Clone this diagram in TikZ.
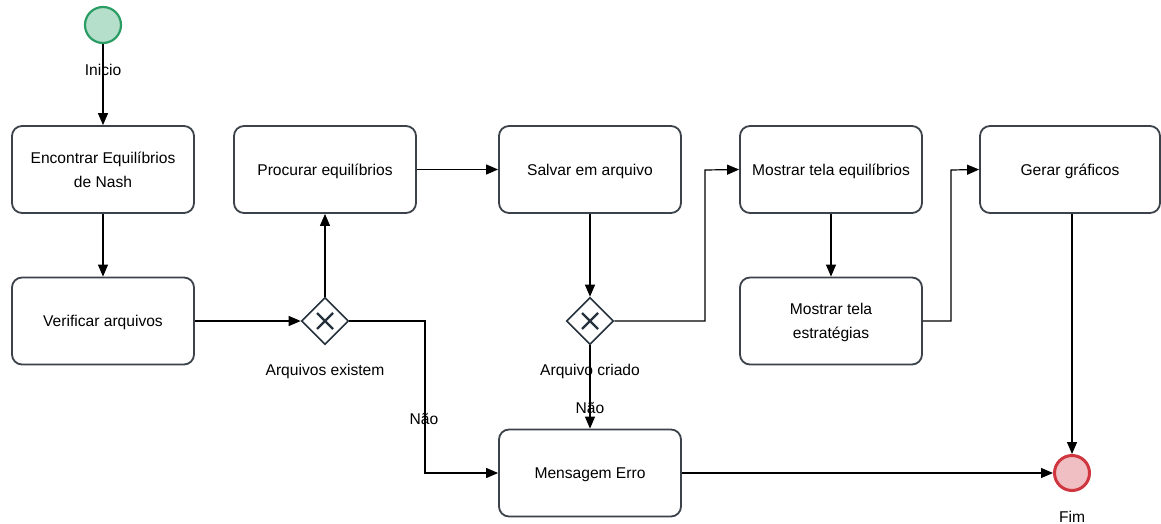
\documentclass[tikz,border=0pt]{standalone}
\usepackage{fontspec}
\setmainfont{Liberation Sans}
\usetikzlibrary{arrows.meta,shapes.geometric}
\definecolor{taskline}{HTML}{3B4249}
\definecolor{startfill}{HTML}{B5DECB}
\definecolor{startline}{HTML}{2A9D65}
\definecolor{endfill}{HTML}{F0BFC3}
\definecolor{endline}{HTML}{D0363F}
\definecolor{gwline}{HTML}{25313C}
\tikzset{
  task/.style={draw=taskline, line width=1.8pt, rounded corners=10pt, fill=white,
    minimum width=182pt, minimum height=87pt, align=center, inner sep=2pt,
    text depth=0pt, font=\fontsize{15.6}{24}\selectfont},
  gateway/.style={diamond, draw=gwline, line width=1.6pt, fill=white,
    minimum width=47pt, minimum height=47pt, inner sep=0pt},
  startev/.style={circle, draw=startline, fill=startfill, line width=2.2pt,
    minimum size=36pt, inner sep=0pt},
  endev/.style={circle, draw=endline, fill=endfill, line width=3pt,
    minimum size=35pt, inner sep=0pt},
  lbl/.style={font=\fontsize{15.6}{18}\selectfont, inner sep=1pt},
  flow/.style={draw=black, line width=1.2pt, -{Triangle[length=12pt,width=10pt]}},
}
\begin{document}
\begin{tikzpicture}[x=1pt,y=-1pt]
\useasboundingbox (0,0) rectangle (1161,524);

% events
\node[startev] (start) at (103,25) {};
\node[lbl] at (103,70) {Inicio};
\node[endev] (fim) at (1072,473) {};
\node[lbl] at (1072,517) {Fim};

% tasks
\node[task] (nash) at (103,169.5) {Encontrar Equilíbrios\\de Nash};
\node[task] (verif) at (103,321) {Verificar arquivos};
\node[task] (proc) at (325,169.5) {Procurar equilíbrios};
\node[task] (salvar) at (590,169.5) {Salvar em arquivo};
\node[task] (telaeq) at (831,169.5) {Mostrar tela equilíbrios};
\node[task] (telaest) at (831,321) {Mostrar tela\\estratégias};
\node[task, minimum width=180pt] (graf) at (1070,169.5) {Gerar gráficos};
\node[task] (erro) at (590,473) {Mensagem Erro};

% exclusive gateways
\foreach \n/\x in {gw1/325, gw2/590}{
  \node[gateway] (\n) at (\x,321) {};
  \draw[gwline, line width=2.2pt] ([shift={(-8,-8)}]\n.center) -- ([shift={(8,8)}]\n.center)
        ([shift={(-8,8)}]\n.center) -- ([shift={(8,-8)}]\n.center);
}
\node[lbl] at (325,371) {Arquivos existem};

% sequence flows
\draw[flow] (start) -- (nash);
\draw[flow] (nash) -- (verif);
\draw[flow] (verif) -- (gw1);
\draw[flow] (gw1) -- (proc);
\draw[flow] (gw1.east) -- (425,321) -- (425,473) -- (erro.west);
\node[lbl] at (424,419) {Não};
\draw[flow] (proc) -- (salvar);
\draw[flow] (salvar) -- (gw2);
\draw[flow] (gw2.east) -- (705,321) -- (705,170) -- (telaeq.west);
\draw[flow] (gw2) -- (erro);
\node[lbl] at (590,371) {Arquivo criado};
\node[lbl] at (590,408) {Não};
\draw[flow] (telaeq) -- (telaest);
\draw[flow] (telaest.east) -- (951,321) -- (951,170) -- (graf.west);
\draw[flow] (graf.south -| fim) -- (fim);
\draw[flow] (erro) -- (fim);
\end{tikzpicture}
\end{document}
